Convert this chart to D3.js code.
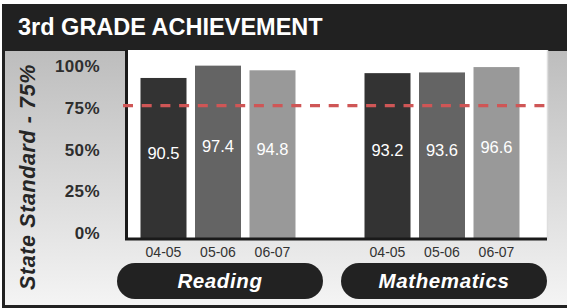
<!DOCTYPE html>
<html>
<head>
<meta charset="utf-8">
<script src="https://cdn.jsdelivr.net/npm/d3@7"></script>
<style>
  body { margin: 0; background: #fff; }
  svg { display: block; font-family: "Liberation Sans", Arial, Helvetica, sans-serif; }
</style>
</head>
<body>
<div id="contents"></div>
<script>
var subjects = ["Reading", "Mathematics"];
var years = ["04-05", "05-06", "06-07"];
var reading = [90.5, 97.4, 94.8];
var mathematics = [93.2, 93.6, 96.6];
var ticks = [0, 25, 50, 75, 100];
var standard = 75;
var barColors = ["#333333", "#646464", "#999999"];

var width = 567, height = 308;
var plotLeft = 125, plotRight = 547, plotTop = 50, plotBottom = 239;

var rows = [];
subjects.forEach(function(s, i){
  var vals = i == 0 ? reading : mathematics;
  years.forEach(function(y, j){
    rows.push({subject: s, year: y, value: vals[j]});
  });
});

var svg = d3.select("#contents")
  .append("svg")
  .attr("width", width)
  .attr("height", height);

var defs = svg.append("defs");
var grad = defs.append("linearGradient")
  .attr("id", "bg")
  .attr("x1", 0).attr("y1", 0).attr("x2", 0).attr("y2", 1);
grad.append("stop").attr("offset", "0%").attr("stop-color", "#bdbdbd");
grad.append("stop").attr("offset", "100%").attr("stop-color", "#f4f4f4");

// frame + title bar
svg.append("rect").attr("x", 2).attr("y", 4).attr("width", width - 2).attr("height", height - 4).attr("fill", "#212121");
svg.append("rect").attr("x", 5).attr("y", 51).attr("width", width - 5).attr("height", 254).attr("fill", "url(#bg)");

svg.append("text")
  .attr("x", 18).attr("y", 35)
  .attr("fill", "#fff")
  .attr("font-size", "23.5px")
  .attr("font-weight", "bold")
  .text("3rd GRADE ACHIEVEMENT");

// scales
var y = d3.scaleLinear().domain([0, 100]).range([239.6, 61]);
var yLabel = d3.scaleLinear().domain([0, 100]).range([233, 66]);
var x0 = d3.scaleBand().domain(subjects).range([106, 554]);
var x1 = d3.scaleBand().domain(years).range([0, x0.bandwidth()])
  .paddingInner(0.156).paddingOuter(0.633);
var color = d3.scaleOrdinal().domain(years).range(barColors);

// plot area
svg.append("rect")
  .attr("x", plotLeft).attr("y", plotTop)
  .attr("width", plotRight - plotLeft).attr("height", plotBottom - plotTop)
  .attr("fill", "#fff");
svg.append("line")
  .attr("x1", plotRight + 0.5).attr("x2", plotRight + 0.5)
  .attr("y1", plotTop).attr("y2", plotBottom)
  .attr("stroke", "#dedede").attr("stroke-width", 1.5);

var bars = svg.append("g").selectAll(".bar")
  .data(rows)
  .enter()
    .append("g")
    .attr("class", "bar");

bars.append("rect")
  .attr("x", function(d){ return x0(d.subject) + x1(d.year); })
  .attr("y", function(d){ return y(d.value); })
  .attr("width", x1.bandwidth())
  .attr("height", function(d){ return y(0) - y(d.value); })
  .attr("fill", function(d){ return color(d.year); });

bars.append("text")
  .attr("x", function(d){ return x0(d.subject) + x1(d.year) + x1.bandwidth() / 2; })
  .attr("y", function(d){ return (y(d.value) + y(0)) / 2 - 6; })
  .attr("dy", "0.35em")
  .attr("text-anchor", "middle")
  .attr("fill", "#fff")
  .attr("font-size", "16.5px")
  .text(function(d){ return d.value.toFixed(1); });

// axis frame
svg.append("path")
  .attr("d", "M" + (plotLeft + 1.5) + "," + plotTop + "V" + plotBottom + "H" + plotRight)
  .attr("fill", "none")
  .attr("stroke", "#1a1a1a")
  .attr("stroke-width", 3);

// state standard line
svg.append("line")
  .attr("x1", 123).attr("x2", plotRight + 1)
  .attr("y1", y(standard)).attr("y2", y(standard))
  .attr("stroke", "#cf5656")
  .attr("stroke-width", 3.2)
  .attr("stroke-dasharray", "10,8.7");

// y tick labels
svg.append("g").selectAll("text")
  .data(ticks)
  .enter()
    .append("text")
    .attr("x", 100)
    .attr("y", function(d){ return yLabel(d); })
    .attr("dy", "0.36em")
    .attr("text-anchor", "end")
    .attr("fill", "#2e2e2e")
    .attr("font-size", "17px")
    .attr("font-weight", "bold")
    .attr("letter-spacing", "0.4px")
    .text(function(d){ return d + "%"; });

svg.append("text")
  .attr("transform", "translate(35,177) rotate(-90)")
  .attr("text-anchor", "middle")
  .attr("fill", "#262626")
  .attr("font-size", "21.5px")
  .attr("font-weight", "bold")
  .attr("font-style", "italic")
  .attr("letter-spacing", "0.6px")
  .text("State Standard - " + standard + "%");

// year labels
bars.append("text")
  .attr("x", function(d){ return x0(d.subject) + x1(d.year) + x1.bandwidth() / 2; })
  .attr("y", 257)
  .attr("text-anchor", "middle")
  .attr("fill", "#333")
  .attr("font-size", "14px")
  .text(function(d){ return d.year; });

// subject pills
var pills = svg.append("g").selectAll(".pill")
  .data(subjects)
  .enter()
    .append("g")
    .attr("class", "pill");

pills.append("rect")
  .attr("x", function(d){ return x0(d) + x0.bandwidth() / 2 + 2 - 103; })
  .attr("y", 263)
  .attr("width", 206)
  .attr("height", 36)
  .attr("rx", 18)
  .attr("fill", "#222");

pills.append("text")
  .attr("x", function(d){ return x0(d) + x0.bandwidth() / 2 + 2; })
  .attr("y", 288)
  .attr("text-anchor", "middle")
  .attr("fill", "#fff")
  .attr("font-size", "20.5px")
  .attr("font-weight", "bold")
  .attr("font-style", "italic")
  .attr("letter-spacing", "0.6px")
  .text(function(d){ return d; });
</script>
</body>
</html>
